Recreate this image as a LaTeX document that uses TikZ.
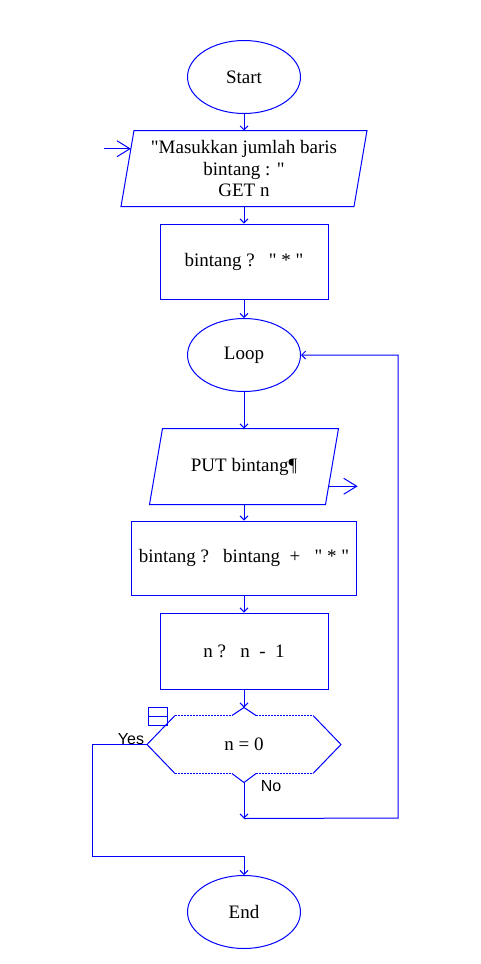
\documentclass[tikz,border=0pt]{standalone}
\usepackage{fontspec}
\newfontfamily\nodefont{Liberation Serif}
\newfontfamily\labelfont{Liberation Sans}
\usetikzlibrary{positioning, arrows.meta, calc, shapes.geometric}

\tikzset{
  base/.style = {draw=blue, line width=1pt, align=center, inner sep=0pt,
                 font=\nodefont\fontsize{19}{21.5}\selectfont},
  term/.style = {base, ellipse, minimum width=113pt, minimum height=73pt},
  proc/.style = {base, rectangle, minimum height=75pt},
  io/.style = {base, draw=none, rectangle, minimum height=75pt},
  line/.style = {draw=blue, line width=1pt},
  dots/.style = {line, dash pattern=on 2pt off 1pt},
  flow/.style = {line, -{Straight Barb[length=4pt,width=8pt]}},
  ioflow/.style = {line, -{Straight Barb[length=13pt,width=16pt]}},
  yesno/.style = {font=\labelfont\fontsize{16}{16}\selectfont, inner sep=0pt}
}

\begin{document}
\begin{tikzpicture}[x=1pt, y=-1pt, node distance=93pt, on grid]
    \useasboundingbox (0,0) rectangle (481,964);

    \node (start) [term] at (244,77) {Start};
    \node (input) [io, minimum width=232pt, below=91.5pt of start]
        {"Masukkan jumlah baris\\bintang : "\\GET n};
    \node (box1) [proc, minimum width=168pt, below=93pt of input]
        {bintang ?\ \ \ "\ *\ "};
    \node (loop) [term, below=93.5pt of box1] {Loop};
    \node (put) [io, minimum width=175pt, below=111.5pt of loop] {PUT bintang¶};
    \node (box2) [proc, minimum width=225pt, minimum height=74pt, below=91.5pt of put]
        {bintang ?\ \ \ bintang\ \ +\ \ \ "\ *\ "};
    \node (box3) [proc, minimum width=168pt, minimum height=76pt, below=93pt of box2]
        {n ?\ \ \ n\ \ -\ \ 1};
    \node (dec) [base, draw=none, minimum width=193pt, minimum height=57pt,
        below=93.5pt of box3] {n = 0};
    \node (end) [term, below=167.5pt of dec] {End};

    % parallelogram outlines
    \draw [line] ([xshift=6.5pt]input.north west) -- ([xshift=6.5pt]input.north east)
        -- ([xshift=-6.5pt]input.south east) -- ([xshift=-6.5pt]input.south west) -- cycle;
    \draw [line] ([xshift=6.5pt]put.north west) -- ([xshift=6.5pt]put.north east)
        -- ([xshift=-6.5pt]put.south east) -- ([xshift=-6.5pt]put.south west) -- cycle;

    % decision outline
    \coordinate (dectop) at ([yshift=8pt]dec.north);
    \coordinate (decbot) at ([yshift=-9pt]dec.south);
    \draw [line] ([xshift=28pt]dec.north west) -- (dec.west) -- ([xshift=28pt]dec.south west);
    \draw [line] ([xshift=-28pt]dec.north east) -- (dec.east) -- ([xshift=-28pt]dec.south east);
    \draw [dots] ([xshift=28pt]dec.north west) -- ([xshift=-12pt]dec.north);
    \draw [dots] ([xshift=12pt]dec.north) -- ([xshift=-28pt]dec.north east);
    \draw [dots] ([xshift=28pt]dec.south west) -- ([xshift=-12pt]dec.south);
    \draw [dots] ([xshift=12pt]dec.south) -- ([xshift=-28pt]dec.south east);
    \draw [line] ([xshift=-12pt]dec.north) -- (dectop) -- ([xshift=12pt]dec.north);
    \draw [line] ([xshift=-12pt]dec.south) -- (decbot) -- ([xshift=12pt]dec.south);

    \node (fold) [line, minimum width=19pt, minimum height=18pt, inner sep=0pt,
        anchor=north west] at (148,707) {};
    \draw [line] (fold.west) -- (fold.east);

    \node (yes) [yesno] at (131,739) {Yes};
    \node (no) [yesno] at (271,786) {No};

    % main flow
    \draw [flow] (start) -- (input);
    \draw [flow] (input) -- (box1);
    \draw [flow] (box1) -- (loop);
    \draw [flow] (loop) -- (put);
    \draw [flow] (put) -- (box2);
    \draw [flow] (box2) -- (box3);
    \draw [flow] (box3) -- (dectop);

    % input / output leads
    \coordinate (injoin) at ($([xshift=6.5pt]input.north west)!0.24!([xshift=-6.5pt]input.south west)$);
    \coordinate (inlead) at ([xshift=-27pt]injoin);
    \draw [ioflow] (inlead) -- (injoin);
    \coordinate (outjoin) at ($([xshift=6.5pt]put.north east)!0.76!([xshift=-6.5pt]put.south east)$);
    \coordinate (outlead) at ([xshift=29pt]outjoin);
    \draw [ioflow] (outjoin) -- (outlead);

    % branches
    \coordinate (yesdown) at (92,856);
    \draw [flow] (dec.west) -| (yesdown) -| (end.north);
    \coordinate (nojoin) at ([yshift=-36pt]decbot);
    \coordinate (back) at (398,818);
    \draw [flow] (decbot) -- (nojoin);
    \draw [flow] (nojoin) -- (back) |- (loop.east);
\end{tikzpicture}
\end{document}
